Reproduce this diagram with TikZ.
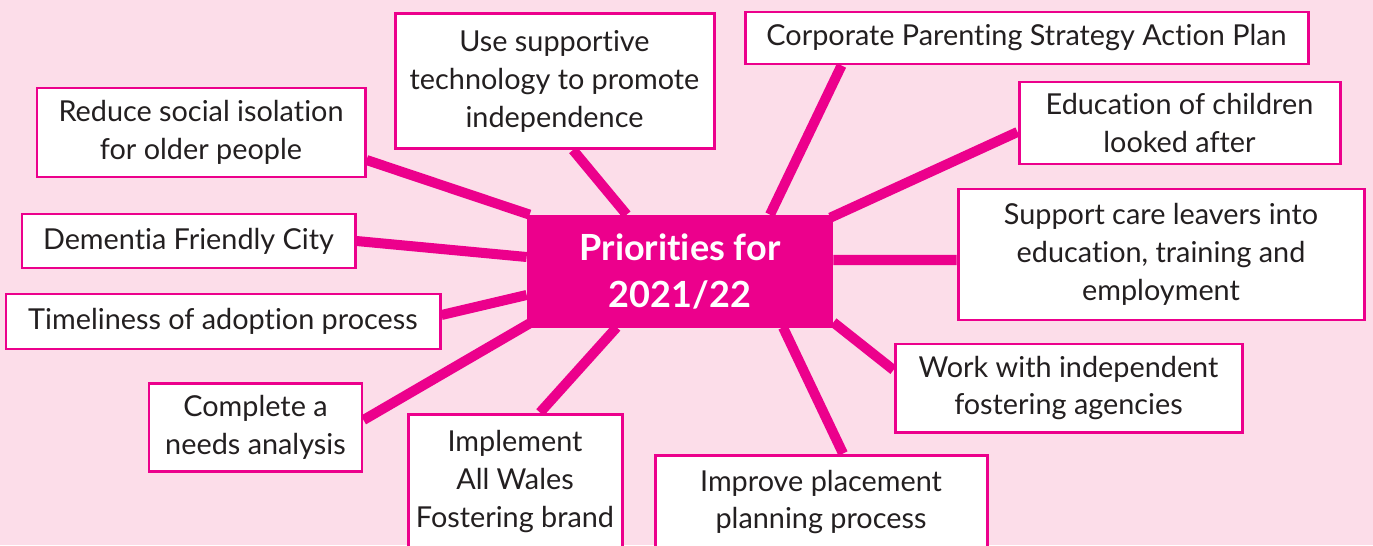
\documentclass[tikz,border=0pt]{standalone}
\usepackage{fontspec}
\setmainfont{Lato}[Ligatures=NoCommon]
\usetikzlibrary{calc,backgrounds}
\definecolor{magentaink}{HTML}{EC008C}
\definecolor{pinkbg}{HTML}{FCDDE9}
\definecolor{darkink}{HTML}{231F20}
\begin{document}
\begin{tikzpicture}[x=1cm,y=1cm,
  topic/.style={draw=magentaink,line width=1.7pt,fill=white,text=darkink,align=center,
    inner sep=0pt,font=\fontsize{16.4}{21.6}\selectfont},
  hubbox/.style={fill=magentaink,text=white,align=center,inner sep=0pt,
    font=\fontsize{20.5}{27}\selectfont\bfseries},
  spoke/.style={magentaink,line width=5.7pt}]
\useasboundingbox (0,0) rectangle (27.46,10.90);
\node[hubbox,minimum width=6.12cm,minimum height=2.26cm] (hub) at (13.60,5.47) {Priorities for\\2021/22};
\node[topic,minimum width=6.38cm,minimum height=2.70cm] (tech) at (11.09,9.28) {Use supportive\\technology to promote\\independence};
\node[topic,minimum width=11.26cm,minimum height=1.04cm] (corp) at (20.53,10.14) {Corporate Parenting Strategy Action Plan};
\node[topic,minimum width=6.42cm,minimum height=1.64cm] (edu) at (23.59,8.44) {Education of children\\looked after};
\node[topic,minimum width=8.12cm,minimum height=2.62cm] (leavers) at (23.22,5.81) {Support care leavers into\\education, training and\\employment};
\node[topic,minimum width=6.94cm,minimum height=1.76cm] (agencies) at (21.37,3.14) {Work with independent\\fostering agencies};
\node[topic,minimum width=6.64cm,minimum height=1.88cm] (placement) at (16.42,0.86) {Improve placement\\planning process};
\node[topic,minimum width=4.28cm,minimum height=2.70cm] (brand) at (10.30,1.27) {Implement\\All Wales\\Fostering brand};
\node[topic,minimum width=4.26cm,minimum height=1.76cm] (needs) at (5.11,2.36) {Complete a\\needs analysis};
\node[topic,minimum width=8.68cm,minimum height=1.10cm] (adoption) at (4.46,4.47) {Timeliness of adoption process};
\node[topic,minimum width=6.66cm,minimum height=1.08cm] (dementia) at (3.77,6.08) {Dementia Friendly City};
\node[topic,minimum width=6.56cm,minimum height=1.78cm] (isolation) at (4.02,8.25) {Reduce social isolation\\for older people};
\begin{scope}[on background layer]
\fill[pinkbg] (0,0) rectangle (27.46,10.90);
\draw[spoke] ($(isolation.east)+(0,-.55)$) -- ($(hub.north west)+(.06,0)$);
\draw[spoke] (dementia.east) -- ($(hub.west)+(0,.29)$);
\draw[spoke] ($(adoption.east)+(0,.13)$) -- ($(hub.west)+(0,-.47)$);
\draw[spoke] ($(needs.east)+(0,.14)$) -- ($(hub.south west)+(.06,.10)$);
\draw[spoke] ($(brand.north)+(.5,0)$) -- ($(hub.south west)+(1.80,.02)$);
\draw[spoke] ($(tech.south)+(.37,0)$) -- ($(hub.north west)+(2.0,0)$);
\draw[spoke] ($(corp.south west)+(1.96,0)$) -- ($(hub.north)+(1.80,0)$);
\draw[spoke] ($(edu.west)+(0,-.18)$) -- ($(hub.north east)+(-.06,-.06)$);
\draw[spoke] ($(leavers.west)+(0,-.11)$) -- ($(hub.east)+(0,.23)$);
\draw[spoke] ($(agencies.west)+(0,.36)$) -- ($(hub.south east)+(0,.12)$);
\draw[spoke] ($(placement.north)+(.44,0)$) -- ($(hub.south)+(2.06,.02)$);
\end{scope}
\end{tikzpicture}
\end{document}
